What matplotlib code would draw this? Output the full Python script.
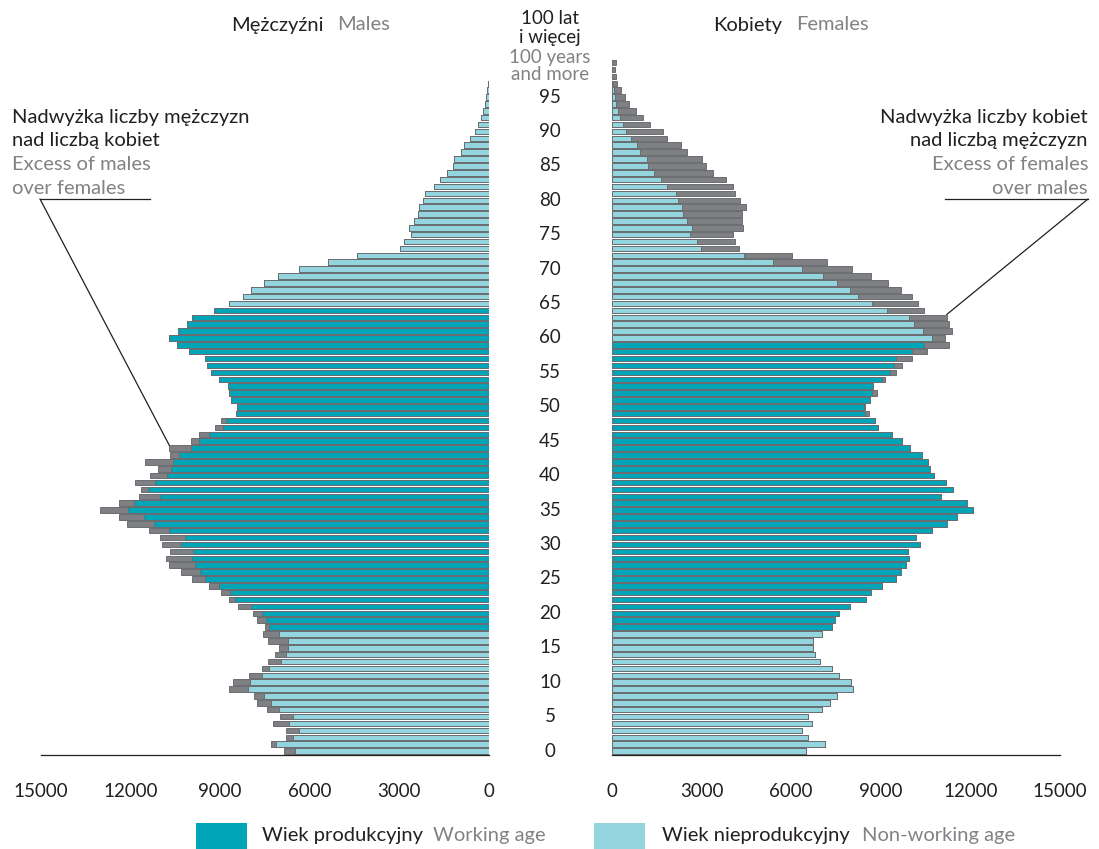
import numpy as np
import matplotlib.pyplot as plt
from matplotlib import transforms
from matplotlib.patches import Rectangle, ConnectionPatch

plt.rcParams['font.family'] = ['Lato', 'DejaVu Sans']

W, H = 1099, 849

ages = np.arange(0, 101)

males = [6853, 7299, 6797, 6797, 7232, 6997, 7433, 7757, 7868, 8695,
         8571, 8025, 7600, 7388, 7175, 7041, 7399, 7556, 7500, 7778,
         7901, 8393, 8695, 8983, 9364, 9933, 10302, 10724, 10803, 10690,
         10948, 11004, 11395, 12110, 12378, 13024, 12378, 11729, 11640, 11852,
         11339, 11082, 11517, 10690, 10703, 9977, 9699, 9163, 8962, 8482,
         8448, 8627, 8695, 8728, 9050, 9307, 9431, 9498, 10034, 10456,
         10703, 10413, 10101, 9955, 9197, 8695, 8226, 7958, 7533, 7064,
         6350, 5379, 4419, 2969, 2846, 2622, 2667, 2511, 2366, 2344,
         2199, 2143, 1842, 1641, 1406, 1205, 1172, 938, 837, 636,
         457, 368, 268, 190, 123, 89, 67, 22, 15, 8,
         12]

females = [6480, 7130, 6570, 6355, 6700, 6550, 7025, 7290, 7520, 8085,
           8015, 7585, 7370, 6970, 6790, 6725, 6725, 7040, 7370, 7460,
           7595, 7975, 8510, 8670, 9030, 9515, 9660, 9860, 9940, 9910,
           10305, 10165, 10730, 11205, 11550, 12090, 11900, 11015, 11410, 11190,
           10780, 10660, 10585, 10395, 9970, 9725, 9360, 8905, 8800, 8616,
           8470, 8645, 8861, 8750, 9151, 9497, 9720, 10044, 10535, 11272,
           11160, 11395, 11294, 11205, 10457, 10234, 10033, 9665, 9252, 8660,
           8024, 7198, 6015, 4241, 4107, 4040, 4386, 4341, 4352, 4475,
           4297, 4107, 4051, 3806, 3393, 3147, 3002, 2522, 2310, 1853,
           1707, 1261, 1049, 815, 580, 424, 290, 167, 123, 89,
           123]

# working age: men 18-64, women 18-59
male_working = (ages >= 18) & (ages <= 64)
female_working = (ages >= 18) & (ages <= 59)

ticks = [0, 3000, 6000, 9000, 12000, 15000]
age_labels = list(range(0, 100, 5))

c_work = '#00a6b8'
c_nonwork = '#93d5de'
c_excess = '#7e8084'
c_edge = '#6b6d70'
c_text = '#231f20'
c_grey = '#808285'

FS = 14.5      # annotation / header / legend text
FS_NUM = 13.5  # numbers

males = np.array(males)
females = np.array(females)
common = np.minimum(males, females)


def px(x, y):
    return x / W, 1 - y / H


fig = plt.figure(figsize=(W / 100, H / 100), dpi=100)

bottom = (H - 755.3) / H
axL = fig.add_axes([41 / W, bottom, 448 / W, 1 - bottom])
axR = fig.add_axes([612 / W, bottom, 448 / W, 1 - bottom])

for ax, total, work in [(axL, males, male_working), (axR, females, female_working)]:
    colors = np.where(work, c_work, c_nonwork)
    ax.barh(ages, total, height=0.8, color=c_excess, edgecolor=c_edge, linewidth=0.7)
    ax.barh(ages, common, height=0.8, color=colors, edgecolor=c_edge, linewidth=0.7)
    ax.set_ylim(-0.62, 751 / 6.884)
    ax.set_yticks([])
    ax.set_xticks(ticks)
    ax.set_xticklabels([str(t) for t in ticks])
    ax.tick_params(axis='x', length=0, pad=20, labelsize=FS_NUM, labelcolor=c_text)
    for s in ['top', 'left', 'right']:
        ax.spines[s].set_visible(False)
    ax.spines['bottom'].set_color(c_text)
    ax.spines['bottom'].set_linewidth(0.9)
    ax.set_facecolor('none')

axL.set_xlim(15000, 0)
axR.set_xlim(0, 15000)

# age labels in the middle
trans = transforms.blended_transform_factory(fig.transFigure, axL.transData)
for a in age_labels:
    fig.text(550 / W, a, str(a), transform=trans, ha='center', va='center',
             fontsize=FS_NUM, color=c_text)

fig.text(*px(550, 19), '100 lat', ha='center', va='center', fontsize=FS_NUM, color=c_text)
fig.text(*px(550, 38), 'i więcej', ha='center', va='center', fontsize=FS_NUM, color=c_text)
fig.text(*px(550, 57), '100 years', ha='center', va='center', fontsize=FS_NUM, color=c_grey)
fig.text(*px(550, 75), 'and more', ha='center', va='center', fontsize=FS_NUM, color=c_grey)

# headers
fig.text(*px(231, 25), 'Mężczyźni', ha='left', va='center', fontsize=FS, color=c_text)
fig.text(*px(337, 25), 'Males', ha='left', va='center', fontsize=FS, color=c_grey)
fig.text(*px(713, 25), 'Kobiety', ha='left', va='center', fontsize=FS, color=c_text)
fig.text(*px(796, 25), 'Females', ha='left', va='center', fontsize=FS, color=c_grey)

# annotations
left_lines = [('Nadwyżka liczby mężczyzn', c_text), ('nad liczbą kobiet', c_text),
              ('Excess of males', c_grey), ('over females', c_grey)]
right_lines = [('Nadwyżka liczby kobiet', c_text), ('nad liczbą mężczyzn', c_text),
               ('Excess of females', c_grey), ('over males', c_grey)]
for i, (txt, col) in enumerate(left_lines):
    fig.text(*px(12, 117 + 23.7 * i), txt, ha='left', va='center', fontsize=FS, color=col)
for i, (txt, col) in enumerate(right_lines):
    fig.text(*px(1088, 117 + 23.7 * i), txt, ha='right', va='center', fontsize=FS, color=col)

fig.add_artist(plt.Line2D([40 / W, 150 / W], [1 - 199 / H, 1 - 199 / H],
                          transform=fig.transFigure, color=c_text, lw=0.9))
fig.add_artist(ConnectionPatch(xyA=px(40, 199), coordsA=fig.transFigure,
                               xyB=(males[44], 44.4), coordsB=axL.transData,
                               color=c_text, lw=0.9))
fig.add_artist(plt.Line2D([945 / W, 1088 / W], [1 - 199 / H, 1 - 199 / H],
                          transform=fig.transFigure, color=c_text, lw=0.9))
fig.add_artist(ConnectionPatch(xyA=px(1088, 199), coordsA=fig.transFigure,
                               xyB=(females[63], 63.4), coordsB=axR.transData,
                               color=c_text, lw=0.9))

# legend
for x0, col, t1, t2, tx1, tx2 in [(196, c_work, 'Wiek produkcyjny', 'Working age', 262, 433),
                                  (594, c_nonwork, 'Wiek nieprodukcyjny', 'Non-working age', 662, 862)]:
    fig.add_artist(Rectangle(px(x0, 852), 51 / W, 29 / H, transform=fig.transFigure,
                             facecolor=col, edgecolor='none'))
    fig.text(*px(tx1, 836), t1, ha='left', va='center', fontsize=FS, color=c_text)
    fig.text(*px(tx2, 836), t2, ha='left', va='center', fontsize=FS, color=c_grey)

fig.savefig('out.png', dpi=100)
